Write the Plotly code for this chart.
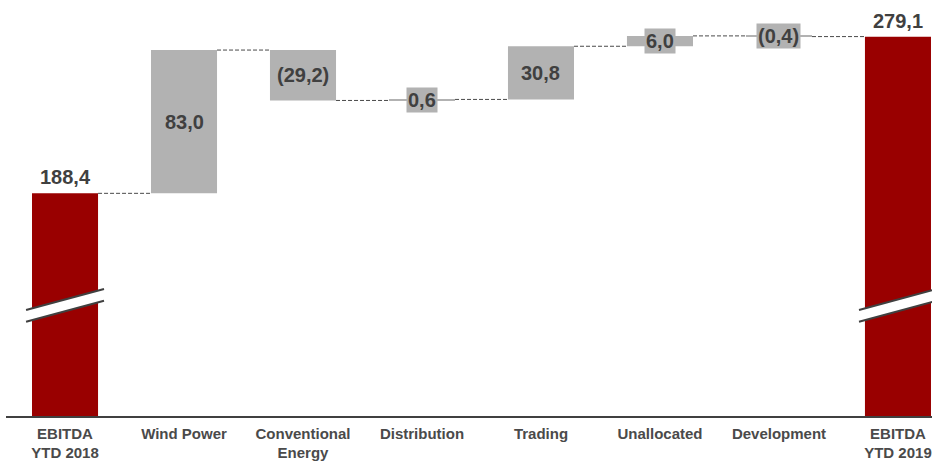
import plotly.graph_objects as go

# EBITDA bridge, YTD 2018 -> YTD 2019
categories = ["EBITDA<br>YTD 2018", "Wind Power", "Conventional<br>Energy", "Distribution",
              "Trading", "Unallocated", "Development", "EBITDA<br>YTD 2019"]
start_total = 188.4
deltas = [83.0, -29.2, 0.6, 30.8, 6.0, -0.4]
end_total = 279.1

RED = "#990000"
GRAY = "#b2b2b2"
TEXT = "#404040"
AXIS = "#404040"
FONT = "Arial, Liberation Sans, sans-serif"
BAR_W = 0.555


def fmt(v):
    s = f"{abs(v):.1f}".replace(".", ",")
    return f"({s})" if v < 0 else s


# running levels for the floating bars
levels = [start_total]
for d in deltas:
    levels.append(levels[-1] + d)
bases = [min(levels[i], levels[i + 1]) for i in range(len(deltas))]
heights = [abs(d) for d in deltas]
xs = list(range(len(categories)))

fig = go.Figure()

# totals
fig.add_trace(go.Bar(x=[xs[0], xs[-1]], y=[start_total, end_total], base=0,
                     width=BAR_W, marker=dict(color=RED, line=dict(width=0)),
                     hoverinfo="skip"))
# deltas
fig.add_trace(go.Bar(x=xs[1:-1], y=heights, base=bases, width=BAR_W,
                     marker=dict(color=GRAY, line=dict(width=0)), hoverinfo="skip"))

# dashed connectors between neighbouring bars
cx, cy = [], []
for i in range(len(categories) - 1):
    lvl = levels[i] if i < len(levels) else end_total
    cx += [xs[i] + BAR_W / 2, xs[i + 1] - BAR_W / 2, None]
    cy += [lvl, lvl, None]
fig.add_trace(go.Scatter(x=cx, y=cy, mode="lines",
                         line=dict(color="#4a4a4a", width=1, dash="4px,2px"),
                         hoverinfo="skip"))

annotations = []
# total labels above the red bars
for x, v in [(xs[0], start_total), (xs[-1], end_total)]:
    annotations.append(dict(x=x, y=v, text=f"<b>{fmt(v)}</b>", showarrow=False,
                            yanchor="bottom", yshift=3,
                            font=dict(family=FONT, size=20, color=TEXT)))
# delta labels centred on each floating bar
for i, d in enumerate(deltas):
    annotations.append(dict(x=xs[i + 1], y=bases[i] + heights[i] / 2,
                            text=f"<b>{fmt(d)}</b>", showarrow=False,
                            bgcolor=GRAY, borderpad=1,
                            font=dict(family=FONT, size=20, color=TEXT)))

# axis-break marks on the two total bars
shapes = []
half = BAR_W / 2 + 0.05
y_lo_l, y_lo_r = 114.0, 126.2
gap = 6.8
for x in (xs[0], xs[-1]):
    x0, x1 = x - half, x + half
    shapes.append(dict(type="path", xref="x", yref="y",
                       path=f"M{x0},{y_lo_l} L{x1},{y_lo_r} L{x1},{y_lo_r + gap} L{x0},{y_lo_l + gap} Z",
                       fillcolor="white", line=dict(width=0), layer="above"))
    for off in (0, gap):
        shapes.append(dict(type="line", xref="x", yref="y",
                           x0=x0, y0=y_lo_l + off, x1=x1, y1=y_lo_r + off,
                           line=dict(color=AXIS, width=2), layer="above"))

fig.update_layout(
    width=932, height=461,
    margin=dict(l=6, r=0, t=0, b=45),
    paper_bgcolor="white", plot_bgcolor="white",
    showlegend=False, barmode="overlay",
    annotations=annotations, shapes=shapes,
    xaxis=dict(range=[-0.496, 7.286], tickvals=xs, ticktext=[f"<b>{c}</b>" for c in categories],
               tickfont=dict(family=FONT, size=15, color="#4a4a4a"), showgrid=False,
               zeroline=False, showline=True, linecolor=AXIS, linewidth=1.5,
               ticks="", ticklabelstandoff=3, automargin=False, fixedrange=True),
    yaxis=dict(range=[59.4, 300.4], visible=False, showgrid=False, zeroline=False,
               fixedrange=True),
)

fig.write_html("out.html")
